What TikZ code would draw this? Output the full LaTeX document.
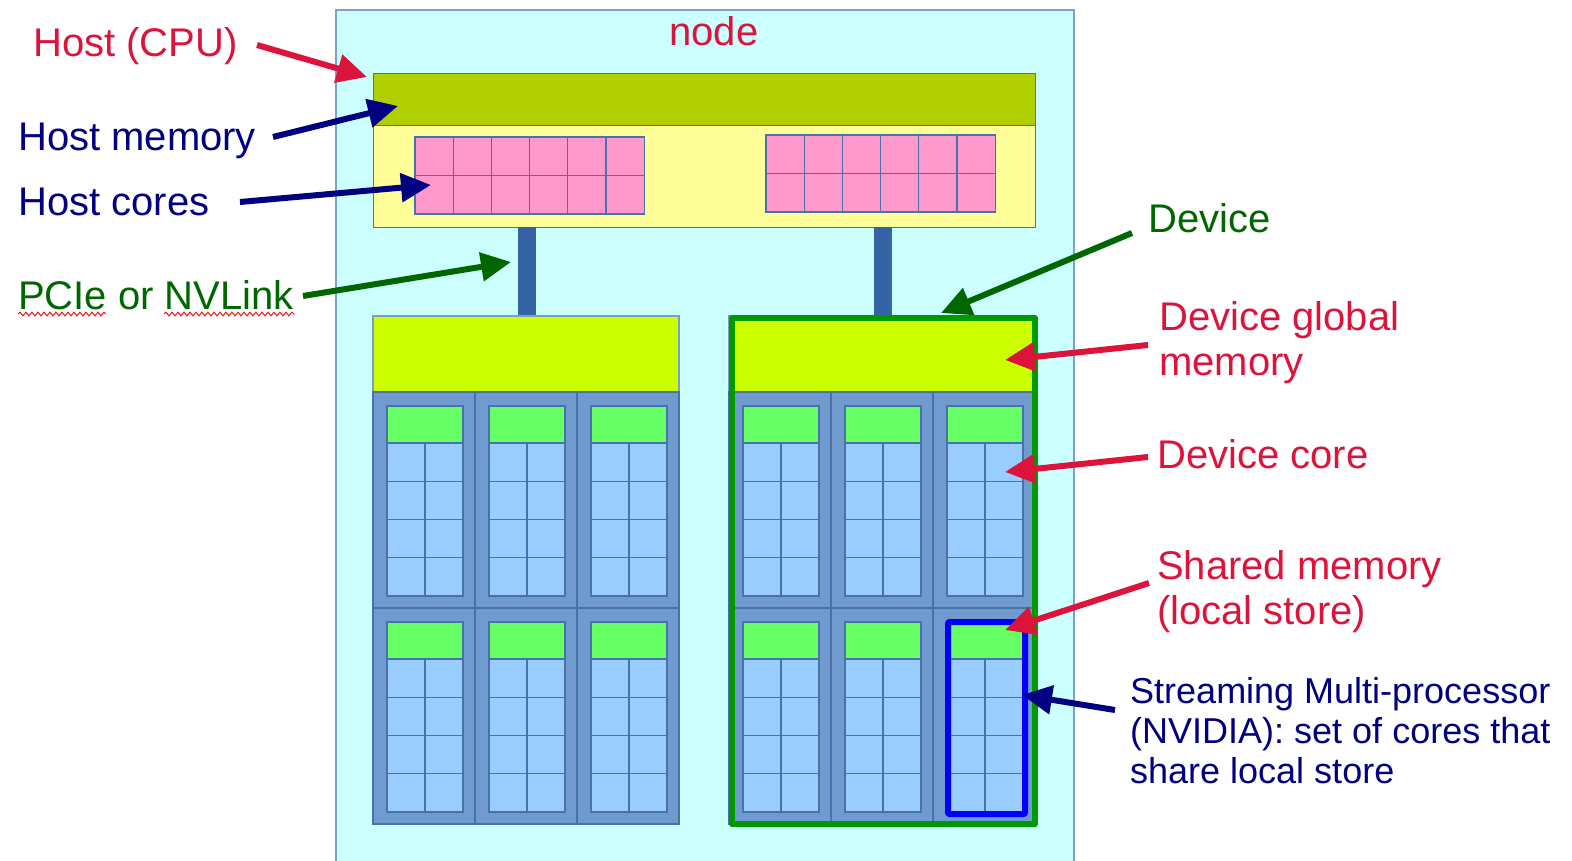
\documentclass[tikz,border=0pt]{standalone}
\usepackage{fontspec}
\setmainfont{Liberation Sans}
\usetikzlibrary{arrows.meta,decorations.pathmorphing}

\definecolor{nodebg}{HTML}{CCFFFF}
\definecolor{nodeedge}{HTML}{7F9FCF}
\definecolor{hostmemc}{HTML}{AFCF00}
\definecolor{hostyel}{HTML}{FFFF99}
\definecolor{corepink}{HTML}{FF99CC}
\definecolor{gridline}{HTML}{4A72AA}
\definecolor{linkblue}{HTML}{3464A4}
\definecolor{devmem}{HTML}{CCFF00}
\definecolor{devgrid}{HTML}{6F9BCF}
\definecolor{smgreen}{HTML}{66FF66}
\definecolor{cellblue}{HTML}{99CCFF}
\definecolor{devborder}{HTML}{009900}
\definecolor{smhigh}{HTML}{0000FF}
\definecolor{lblred}{HTML}{DC143C}
\definecolor{lblnavy}{HTML}{000080}
\definecolor{lblgreen}{HTML}{006600}

\tikzset{
  box/.style={draw=gridline, line width=1.2pt},
  lbl/.style={inner sep=0pt, anchor=base west, align=left,
              font=\fontsize{40}{45}\selectfont},
  smalllbl/.style={lbl, font=\fontsize{36}{40}\selectfont},
  arr/.style={line width=6pt, -{Triangle[length=30pt,width=28pt]}},
  squiggle/.style={draw=red, line width=0.9pt, decorate,
                   decoration={snake, amplitude=1.8pt, segment length=6pt}}
}

% one streaming multiprocessor at (#1,#2): shared-memory strip over 2x4 cores
\newcommand\smunit[2]{%
  \fill[smgreen] (#1,#2) rectangle ++(76,37);
  \draw[box] (#1,#2) rectangle ++(76,37);
  \foreach \rr in {0,...,3}{
    \foreach \cc in {0,1}{
      \draw[box, fill=cellblue] ({#1+38*\cc},{#2+37+38.25*\rr}) rectangle ++(38,38.25);
    }
  }%
}

% one device with left edge #1: global memory over a 3x2 array of multiprocessors
\newcommand\gpudevice[1]{%
  \draw[box, draw=gridline!70, fill=devmem] (#1,316) rectangle ++(306,76);
  \draw[box, fill=devgrid] (#1,392) rectangle ++(306,432);
  \draw[box] ({#1+102},392) -- ({#1+102},824);
  \draw[box] ({#1+204},392) -- ({#1+204},824);
  \draw[box] (#1,608) -- ({#1+306},608);
  \foreach \k in {0,1,2}{
    \pgfmathsetmacro\smx{#1+14+102*\k}
    \smunit{\smx}{406}
    \smunit{\smx}{622}
  }%
}

\begin{document}
\begin{tikzpicture}[x=1pt, y=-1pt]
\useasboundingbox (0,0) rectangle (1572,861);
\clip (0,0) rectangle (1572,861);

% compute node enclosure
\draw[draw=nodeedge, line width=1.5pt, fill=nodebg] (336,10) rectangle (1074,880);
\node[inner sep=0pt, anchor=base, text=lblred, font=\fontsize{40}{45}\selectfont]
  (nodetitle) at (714,46) {node};

% host: memory bar and the two multicore sockets
\node[box, fill=hostyel, anchor=north west, minimum width=662pt, minimum height=102pt,
      inner sep=0pt] (hostbody) at (373,125) {};
\node[box, fill=hostmemc, anchor=north west, minimum width=662pt, minimum height=52pt,
      inner sep=0pt] (hostmem) at (373,73) {};
\foreach \x/\y in {415/137, 766/135}{
  \foreach \r in {0,1}{
    \foreach \c in {0,...,5}{
      \draw[box, fill=corepink] ({\x+38.2*\c},{\y+38.5*\r}) rectangle ++(38.2,38.5);
    }
  }
}

% host-device links
\fill[linkblue] (518,227) rectangle (536,316);
\fill[linkblue] (874,227) rectangle (892,316);

% the two devices
\gpudevice{373}
\gpudevice{729}
\draw[devborder, line width=6pt, line join=round] (732,318) rectangle (1035,824);
\draw[smhigh, line width=6pt, line join=round, rounded corners=1pt] (948,622) rectangle (1025,814);

% labels (multi-line labels are placed by their last baseline)
\node[lbl, text=lblred]   (hostcpu)   at (33,57)   {Host (CPU)};
\node[lbl, text=lblnavy]  (hostmemL)  at (18,151)  {Host memory};
\node[lbl, text=lblnavy]  (hostcores) at (18,216)  {Host cores};
\node[lbl, text=lblgreen] (pcie)      at (18,309)  {PCIe or NVLink};
\node[lbl, text=lblgreen] (device)    at (1148,233) {Device};
\node[lbl, text=lblred]   (devglobal) at (1159,375) {Device global\\memory};
\node[lbl, text=lblred]   (devcore)   at (1157,468) {Device core};
\node[lbl, text=lblred]   (shared)    at (1157,624) {Shared memory\\(local store)};
\node[smalllbl, text=lblnavy] (smlbl) at (1130,783)
  {Streaming Multi-processor\\(NVIDIA): set of cores that\\share local store};

% spell-check underlines
\draw[squiggle] (18,314) -- (106,314);
\draw[squiggle] (164,314) -- (295,314);

% arrow end points
\coordinate (hostcpuS)  at (257,45);   \coordinate (hostcpuT)  at (367,77);
\coordinate (hostmemS)  at (273,137);  \coordinate (hostmemT)  at (398,106);
\coordinate (hostcorS)  at (240,202);  \coordinate (hostcorT)  at (431,185);
\coordinate (pcieS)     at (303,296);  \coordinate (pcieT)     at (511,262);
\coordinate (deviceS)   at (1132,233); \coordinate (deviceT)   at (941,313);
\coordinate (globalS)   at (1148,345); \coordinate (globalT)   at (1005,360);
\coordinate (coreS)     at (1148,457); \coordinate (coreT)     at (1005,472);
\coordinate (sharedS)   at (1149,583); \coordinate (sharedT)   at (1005,630);
\coordinate (smS)       at (1115,710); \coordinate (smT)       at (1022,695);

\draw[arr, lblred]   (hostcpuS) -- (hostcpuT);
\draw[arr, lblnavy]  (hostmemS) -- (hostmemT);
\draw[arr, lblnavy]  (hostcorS) -- (hostcorT);
\draw[arr, lblgreen] (pcieS)    -- (pcieT);
\draw[arr, lblgreen] (deviceS)  -- (deviceT);
\draw[arr, lblred]   (globalS)  -- (globalT);
\draw[arr, lblred]   (coreS)    -- (coreT);
\draw[arr, lblred]   (sharedS)  -- (sharedT);
\draw[arr, lblnavy]  (smS)      -- (smT);
\end{tikzpicture}
\end{document}
